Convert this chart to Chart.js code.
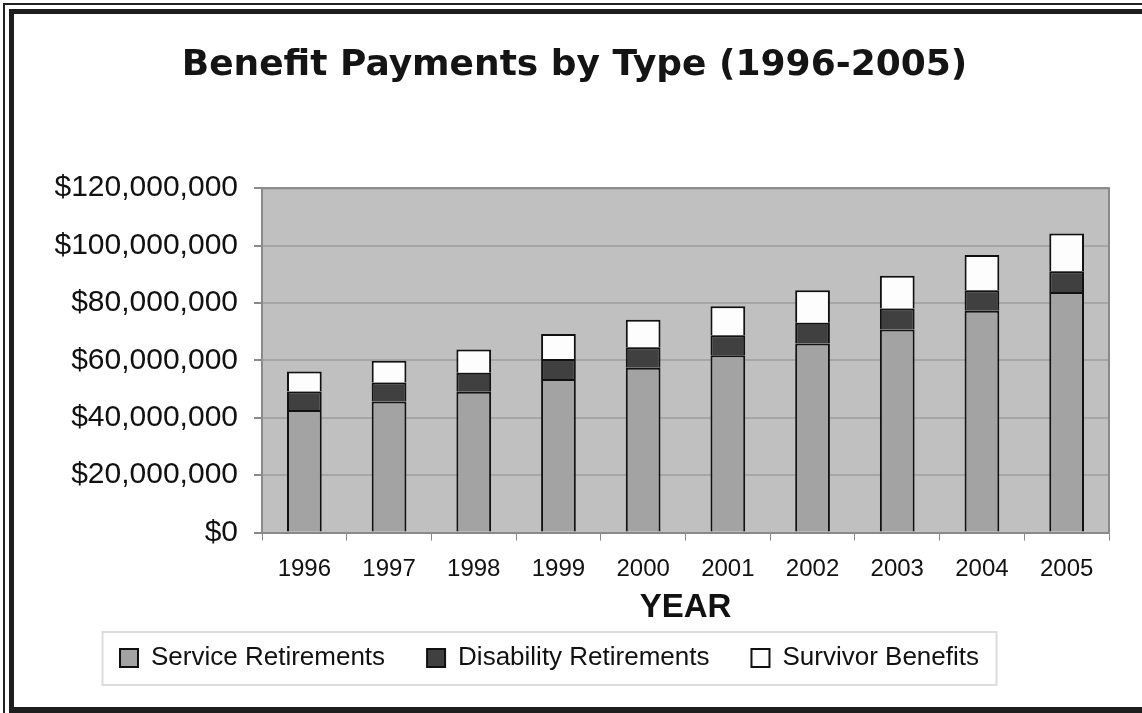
<!DOCTYPE html>
<html>
<head>
<meta charset="utf-8">
<title>Benefit Payments by Type (1996-2005)</title>
<script src="https://cdn.jsdelivr.net/npm/chart.js@4"></script>
<style>
  body { margin: 0; background: #fff; overflow: hidden; }
  .frame-outer { position: absolute; left: 3px; top: 3px; width: 2000px; height: 2000px; border: 2px solid #222; box-sizing: border-box; }
  .frame-inner { position: absolute; left: 9px; top: 9px; width: 2000px; height: 704px; box-sizing: border-box;
    border-left: 5px solid #1e1e1e; border-top: 5px solid #1e1e1e; border-bottom: 6px solid #1e1e1e; }
  #benefitChart { position: absolute; left: 0; top: 0; }
</style>
</head>
<body>
<div class="frame-outer"></div>
<div class="frame-inner"></div>
<canvas id="benefitChart" width="1142" height="713"></canvas>
<script>
'use strict';

const years = ['1996', '1997', '1998', '1999', '2000', '2001', '2002', '2003', '2004', '2005'];
const serviceRetirements = [42700000, 45700000, 49100000, 53500000, 57400000, 61800000, 65900000, 70800000, 77300000, 83800000];
const disabilityRetirements = [6500000, 6600000, 6600000, 7000000, 7200000, 7000000, 7200000, 7300000, 7100000, 7300000];
const survivorBenefits = [6900000, 7600000, 8100000, 8700000, 9600000, 10100000, 11300000, 11400000, 12300000, 13100000];
const seriesNames = ['Service Retirements', 'Disability Retirements', 'Survivor Benefits'];
const yTicks = [0, 20000000, 40000000, 60000000, 80000000, 100000000, 120000000];

const fontFamily = '"Liberation Sans", Arial, sans-serif';

// grey plot area, its top/right border and the box round the legend
const chartDecor = {
  id: 'chartDecor',
  afterLayout(chart) {
    const title = chart.titleBlock;
    title.left += 20;
    title.right += 20;
    const lg = chart.legend;
    lg.left -= 5;
    lg.right -= 5;
    lg.top -= 27;
    lg.bottom -= 27;
  },
  beforeDraw(chart) {
    const { ctx, chartArea } = chart;
    ctx.save();
    ctx.fillStyle = '#c0c0c0';
    ctx.fillRect(chartArea.left, chartArea.top, chartArea.width, chartArea.height);

    const lg = chart.legend;
    const cx = (lg.left + lg.right) / 2;
    const cy = lg.top + lg.options.labels.padding + 13;
    ctx.fillStyle = '#fff';
    ctx.strokeStyle = '#dcdcdc';
    ctx.lineWidth = 2;
    ctx.fillRect(cx - 447, cy - 26, 894, 53);
    ctx.strokeRect(cx - 447, cy - 26, 894, 53);
    ctx.restore();
  },
  afterDraw(chart) {
    const { ctx, chartArea } = chart;
    ctx.save();
    ctx.strokeStyle = '#8a8a8a';
    ctx.lineWidth = 2;
    ctx.beginPath();
    ctx.moveTo(chartArea.left, chartArea.top);
    ctx.lineTo(chartArea.right, chartArea.top);
    ctx.lineTo(chartArea.right, chartArea.bottom);
    ctx.stroke();
    ctx.restore();
  },
};

const ctx = document.getElementById('benefitChart');

new Chart(ctx, {
  type: 'bar',
  data: {
    labels: years,
    datasets: [
      {
        label: seriesNames[0],
        data: serviceRetirements,
        backgroundColor: '#a3a3a3',
        borderColor: '#111',
        borderWidth: 2,
      },
      {
        label: seriesNames[1],
        data: disabilityRetirements,
        backgroundColor: '#404040',
        borderColor: '#111',
        borderWidth: 2,
      },
      {
        label: seriesNames[2],
        data: survivorBenefits,
        backgroundColor: '#fdfdfd',
        borderColor: '#111',
        borderWidth: 2,
      },
    ],
  },
  options: {
    responsive: false,
    animation: false,
    devicePixelRatio: 1,
    barPercentage: 0.41,
    categoryPercentage: 1,
    layout: {
      padding: { left: 0, right: 33, top: 0, bottom: 5 },
    },
    plugins: {
      title: {
        display: true,
        text: 'Benefit Payments by Type (1996-2005)',
        color: '#141414',
        font: { family: '"DejaVu Sans", sans-serif', weight: 'bold', size: 36, lineHeight: 1.2 },
        padding: { top: 44, bottom: 101 },
      },
      legend: {
        position: 'bottom',
        labels: {
          color: '#111',
          font: { family: fontFamily, size: 26 },
          boxWidth: 18,
          boxHeight: 18,
          padding: 42,
        },
      },
      tooltip: { enabled: false },
    },
    scales: {
      x: {
        stacked: true,
        grid: {
          display: true,
          drawOnChartArea: false,
          color: '#8a8a8a',
          tickLength: 8,
        },
        border: { color: '#8a8a8a', width: 2 },
        ticks: {
          color: '#111',
          font: { family: fontFamily, size: 24 },
          padding: 14,
        },
        title: {
          display: true,
          text: 'YEAR',
          color: '#111',
          font: { family: fontFamily, size: 33, weight: 'bold', lineHeight: 1.2 },
          padding: { top: -9, bottom: 2 },
        },
      },
      y: {
        stacked: true,
        min: 0,
        max: 120000000,
        afterFit(scale) {
          scale.width = 262;
        },
        afterBuildTicks(scale) {
          scale.ticks = yTicks.map((v) => ({ value: v }));
        },
        grid: {
          color: '#a6a6a6',
          lineWidth: 2,
          tickLength: 8,
          tickColor: '#8a8a8a',
        },
        border: { color: '#8a8a8a', width: 2 },
        ticks: {
          color: '#111',
          font: { family: fontFamily, size: 30 },
          padding: 16,
          callback: (v) => '$' + Number(v).toLocaleString('en-US'),
        },
      },
    },
  },
  plugins: [chartDecor],
});
</script>
</body>
</html>
